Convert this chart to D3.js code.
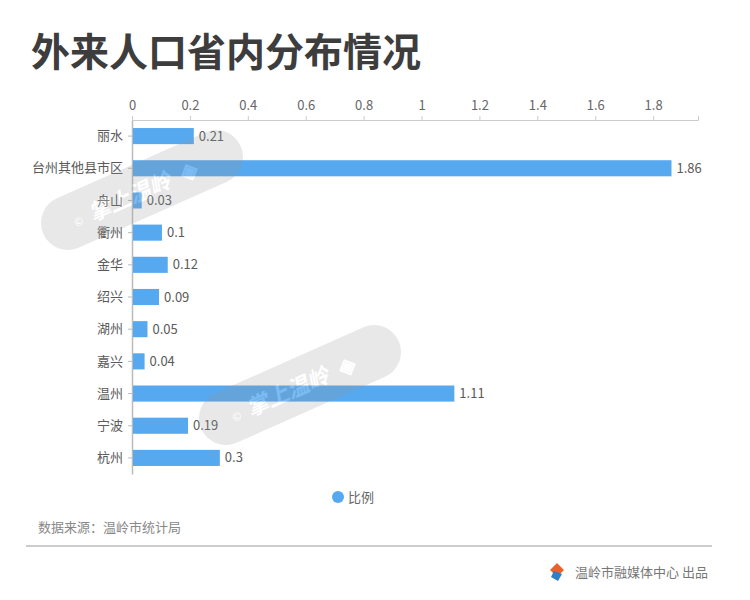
<!DOCTYPE html>
<html>
<head>
<meta charset="utf-8">
<script src="https://cdn.jsdelivr.net/npm/d3@7"></script>
<style>
  body { margin: 0; background: #fff; }
  svg text { font-family: "Noto Sans CJK SC", "Noto Sans", sans-serif; }
</style>
</head>
<body>
<svg id="chart" width="750" height="600"></svg>
<script>
// data
const cities = ['丽水', '台州其他县市区', '舟山', '衢州', '金华', '绍兴', '湖州', '嘉兴', '温州', '宁波', '杭州']
const ratios = [0.21, 1.86, 0.03, 0.1, 0.12, 0.09, 0.05, 0.04, 1.11, 0.19, 0.3]
const xTicks = [0, 0.2, 0.4, 0.6, 0.8, 1, 1.2, 1.4, 1.6, 1.8]

const barColor = '#56a8ef'
const textColor = '#5a5a5a'
const svg = d3.select('#chart')

// title
svg.append('text')
    .attr('x', 31).attr('y', 66)
    .style('font-size', '39px').style('font-weight', 'bold')
    .style('fill', '#3d3d3d')
    .text('外来人口省内分布情况')

const x = d3.scaleLinear().domain([0, 1.955]).range([132, 698])
const y = d3.scaleBand().domain(cities).range([120, 474]).paddingInner(0.5).paddingOuter(0.25)

// x axis on top
const xAxis = svg.append('g')
    .attr('transform', 'translate(0,120)')
    .call(d3.axisTop(x).tickValues(xTicks).tickSize(4).tickPadding(6).tickFormat(d3.format('~g')))
xAxis.select('.domain').attr('stroke', '#ccc')
xAxis.selectAll('.tick line').attr('stroke', '#ccc')
xAxis.selectAll('.tick text').style('font-size', '13px').style('fill', '#666')

// y axis
const yAxis = svg.append('g')
    .attr('transform', 'translate(132,0)')
    .call(d3.axisLeft(y).tickSize(4).tickPadding(5).tickSizeOuter(0))
yAxis.select('.domain').attr('stroke', '#bbb').attr('stroke-width', 1.5)
yAxis.selectAll('.tick line').attr('stroke', '#bbb')
yAxis.selectAll('.tick text').style('font-size', '13px').style('fill', textColor)

// bars
svg.append('g').selectAll('rect')
    .data(cities)
    .join('rect')
    .attr('x', x(0) + 1)
    .attr('y', d => y(d))
    .attr('width', (d, i) => x(ratios[i]) - x(0))
    .attr('height', y.bandwidth())
    .attr('fill', barColor)

svg.append('g').selectAll('text')
    .data(cities)
    .join('text')
    .attr('x', (d, i) => x(ratios[i]) + 6)
    .attr('y', d => y(d) + y.bandwidth() / 2)
    .attr('dy', '0.35em')
    .style('font-size', '13px').style('fill', textColor)
    .text((d, i) => ratios[i])

// watermarks
function watermark(cx, cy){
    const g = svg.append('g')
        .attr('transform', 'translate(' + cx + ',' + cy + ') rotate(-24)')
        .style('opacity', 0.22)
    g.append('rect')
        .attr('x', -108).attr('y', -27)
        .attr('width', 216).attr('height', 54)
        .attr('rx', 27)
        .attr('fill', '#999')
    g.append('text')
        .attr('x', -75).attr('y', 7)
        .style('font-size', '11px').style('fill', '#fff')
        .text('©')
    g.append('text')
        .attr('x', -58).attr('y', 9)
        .style('font-size', '22px').style('font-weight', 'bold').style('font-style', 'italic')
        .style('fill', '#fff')
        .text('掌上温岭')
    g.append('text')
        .attr('x', 42).attr('y', 9)
        .style('font-size', '22px').style('font-weight', 'bold')
        .style('fill', '#fff')
        .text('◈')
}
watermark(142, 190)
watermark(300, 385)

// legend
svg.append('circle').attr('cx', 338).attr('cy', 497).attr('r', 6).attr('fill', barColor)
svg.append('text')
    .attr('x', 348).attr('y', 497).attr('dy', '0.35em')
    .style('font-size', '13px').style('fill', '#666')
    .text('比例')

// source + footer
svg.append('text')
    .attr('x', 38).attr('y', 532)
    .style('font-size', '13px').style('fill', '#888')
    .text('数据来源：温岭市统计局')
svg.append('line')
    .attr('x1', 26).attr('x2', 712).attr('y1', 546).attr('y2', 546)
    .attr('stroke', '#999').attr('stroke-width', 1)

const logo = svg.append('g').attr('transform', 'translate(557,572)')
logo.append('path').attr('d', 'M0,-9 L7,-2 L0,5 L-7,-2 Z').attr('fill', '#e8622a')
logo.append('path').attr('d', 'M-3,-1 L5,2 L1,9 L-6,5 Z').attr('fill', '#2f7fc9')

svg.append('text')
    .attr('x', 708).attr('y', 577)
    .attr('text-anchor', 'end')
    .style('font-size', '13px').style('fill', '#777')
    .text('温岭市融媒体中心 出品')
</script>
</body>
</html>
